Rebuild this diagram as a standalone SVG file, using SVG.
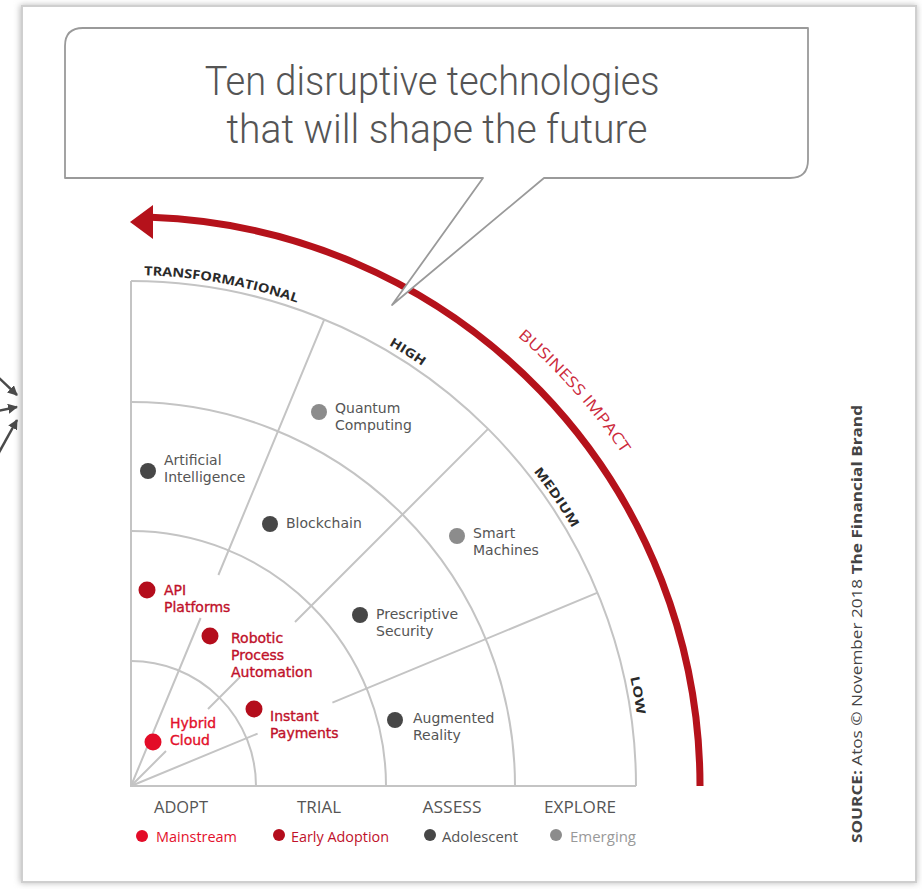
<svg xmlns="http://www.w3.org/2000/svg" width="922" height="889" viewBox="0 0 922 889">
<style>
.grid{fill:none;stroke:#c4c4c4;stroke-width:2}
.arcl{font-family:"Open Sans","Liberation Sans",sans-serif;font-weight:700;font-size:12.5px;fill:#2a2a2a}
.lbl{font-family:"DejaVu Sans","Liberation Sans",sans-serif;font-size:14px;fill:#555}
.lr{fill:#c0112a;stroke:#c0112a;stroke-width:0.35}
.lm{fill:#e3102b;stroke:#e3102b;stroke-width:0.35}
.ax{font-family:"Open Sans","Liberation Sans",sans-serif;font-size:16px;fill:#555;text-anchor:middle}
.lg{font-family:"Open Sans","Liberation Sans",sans-serif;font-size:14px}
.dM{fill:#e30c28}.dE{fill:#b40d1c}.dA{fill:#474747}.dG{fill:#8c8c8c}
</style>
<defs>
<filter id="sh" x="-5%" y="-5%" width="110%" height="110%"><feGaussianBlur stdDeviation="3"/></filter>
<marker id="ah" viewBox="0 0 10 10" refX="9" refY="5" markerWidth="4" markerHeight="4" orient="auto"><path d="M0,0 L10,5 L0,10 z" fill="#4a4a4a"/></marker>
<path id="p511" d="M131 275 A511 511 0 0 1 642 786"/>
<path id="p593" d="M131 193 A593 593 0 0 1 724 786"/>
</defs>
<rect width="922" height="889" fill="#ffffff"/>
<rect x="20" y="5" width="897" height="878" fill="#bbb" filter="url(#sh)"/>
<rect x="22" y="6" width="894" height="876" fill="#ffffff" stroke="#cfcfcf" stroke-width="2"/>
<g id="edge-arrows" stroke="#4a4a4a" stroke-width="2.5" marker-end="url(#ah)">
<line x1="-3" y1="376" x2="17" y2="395"/>
<line x1="-3" y1="411" x2="17" y2="407"/>
<line x1="-3" y1="456" x2="17" y2="420"/>
</g>
<g id="grid">
<path class="grid" d="M131 281 V786 H636"/>
<path class="grid" d="M131 661 A125 125 0 0 1 256 786"/>
<path class="grid" d="M131 531 A255 255 0 0 1 386 786"/>
<path class="grid" d="M131 402 A384 384 0 0 1 515 786"/>
<path class="grid" d="M131 281 A505 505 0 0 1 636 786"/>
</g>
<g id="connectors" class="grid">
<path d="M131 786 L200.6 618 M218.4 575 L324.3 319.4"/>
<path d="M131 786 L166 751 M208 709 L240 677 M295 622 L488.1 428.9"/>
<path d="M131 786 L257.6 733.6 M332.4 702.6 L597.6 592.7"/>
</g>
<g id="arc-labels" class="arcl">
<text text-anchor="middle"><textPath href="#p511" startOffset="91" textLength="156" lengthAdjust="spacingAndGlyphs">TRANSFORMATIONAL</textPath></text>
<text text-anchor="middle"><textPath href="#p511" startOffset="290" textLength="40" lengthAdjust="spacingAndGlyphs">HIGH</textPath></text>
<text text-anchor="middle"><textPath href="#p511" startOffset="498" textLength="69" lengthAdjust="spacingAndGlyphs">MEDIUM</textPath></text>
<text text-anchor="middle"><textPath href="#p511" startOffset="712" textLength="38" lengthAdjust="spacingAndGlyphs">LOW</textPath></text>
</g>
<g id="business-impact">
<path d="M700 786 A569 569 0 0 0 151 217.3" fill="none" stroke="#b5121b" stroke-width="7"/>
<polygon points="130,222 153,205 153,239" fill="#b5121b"/>
<text font-family="Open Sans, Liberation Sans, sans-serif" font-size="15.5" fill="#cc2a3c" text-anchor="middle"><textPath href="#p593" startOffset="500" textLength="158" lengthAdjust="spacingAndGlyphs">BUSINESS IMPACT</textPath></text>
</g>
<g id="bubble">
<path d="M83 28 H808 V160 Q808 178 790 178 H544 L392 305 L483 178 H65 V46 Q65 28 83 28 Z" fill="#ffffff" stroke="#9a9a9a" stroke-width="1.8" stroke-linejoin="round"/>
<text font-family="Roboto, Open Sans, sans-serif" font-weight="300" font-size="40" fill="#555" text-anchor="middle">
<tspan x="437" y="95" textLength="455" lengthAdjust="spacingAndGlyphs">Ten disruptive technologies</tspan>
<tspan x="437" y="143" textLength="421" lengthAdjust="spacingAndGlyphs">that will shape the future</tspan>
</text>
</g>
<g id="quantum-computing"><circle class="dG" cx="319" cy="412" r="8"/><text class="lbl"><tspan x="335" y="413">Quantum</tspan><tspan x="335" y="430">Computing</tspan></text></g>
<g id="artificial-intelligence"><circle class="dA" cx="148" cy="471" r="8"/><text class="lbl"><tspan x="164" y="465">Artificial</tspan><tspan x="164" y="482">Intelligence</tspan></text></g>
<g id="blockchain"><circle class="dA" cx="270" cy="524" r="8"/><text class="lbl" x="286" y="528">Blockchain</text></g>
<g id="smart-machines"><circle class="dG" cx="457" cy="536" r="8"/><text class="lbl"><tspan x="473" y="538">Smart</tspan><tspan x="473" y="555">Machines</tspan></text></g>
<g id="prescriptive-security"><circle class="dA" cx="360" cy="615" r="8"/><text class="lbl"><tspan x="376" y="619">Prescriptive</tspan><tspan x="376" y="636">Security</tspan></text></g>
<g id="augmented-reality"><circle class="dA" cx="395" cy="720" r="8"/><text class="lbl"><tspan x="413" y="723">Augmented</tspan><tspan x="413" y="740">Reality</tspan></text></g>
<g id="api-platforms"><circle class="dE" cx="147" cy="590" r="8.5"/><text class="lbl lr"><tspan x="164" y="595">API</tspan><tspan x="164" y="612">Platforms</tspan></text></g>
<g id="robotic-process-automation"><circle class="dE" cx="210" cy="636" r="8.5"/><text class="lbl lr"><tspan x="231" y="643">Robotic</tspan><tspan x="231" y="660">Process</tspan><tspan x="231" y="677">Automation</tspan></text></g>
<g id="instant-payments"><circle class="dE" cx="254" cy="709" r="8.5"/><text class="lbl lr"><tspan x="270" y="721">Instant</tspan><tspan x="270" y="738">Payments</tspan></text></g>
<g id="hybrid-cloud"><circle class="dM" cx="153" cy="742" r="8.5"/><text class="lbl lm"><tspan x="170" y="728">Hybrid</tspan><tspan x="170" y="745">Cloud</tspan></text></g>
<g id="axis-labels" class="ax">
<text x="181" y="813" textLength="54" lengthAdjust="spacingAndGlyphs">ADOPT</text>
<text x="319" y="813" textLength="44" lengthAdjust="spacingAndGlyphs">TRIAL</text>
<text x="452" y="813" textLength="59" lengthAdjust="spacingAndGlyphs">ASSESS</text>
<text x="580" y="813" textLength="72" lengthAdjust="spacingAndGlyphs">EXPLORE</text>
</g>
<g id="legend" class="lg">
<circle class="dM" cx="142" cy="836" r="6"/><text x="156" y="842" fill="#e3102b" textLength="81" lengthAdjust="spacingAndGlyphs">Mainstream</text>
<circle class="dE" cx="279" cy="835" r="6"/><text x="291" y="842" fill="#c0112a" textLength="98" lengthAdjust="spacingAndGlyphs">Early Adoption</text>
<circle class="dA" cx="430" cy="835" r="6"/><text x="442" y="842" fill="#555" textLength="76" lengthAdjust="spacingAndGlyphs">Adolescent</text>
<circle class="dG" cx="556" cy="835" r="6"/><text x="570" y="842" fill="#999" textLength="66" lengthAdjust="spacingAndGlyphs">Emerging</text>
</g>
<g id="source">
<text transform="translate(862 843) rotate(-90)" font-family="Open Sans, Liberation Sans, sans-serif" font-size="15" fill="#444" textLength="438" lengthAdjust="spacingAndGlyphs"><tspan font-weight="700">SOURCE:</tspan> Atos © November 2018 <tspan font-weight="700">The Financial Brand</tspan></text>
</g>
</svg>
